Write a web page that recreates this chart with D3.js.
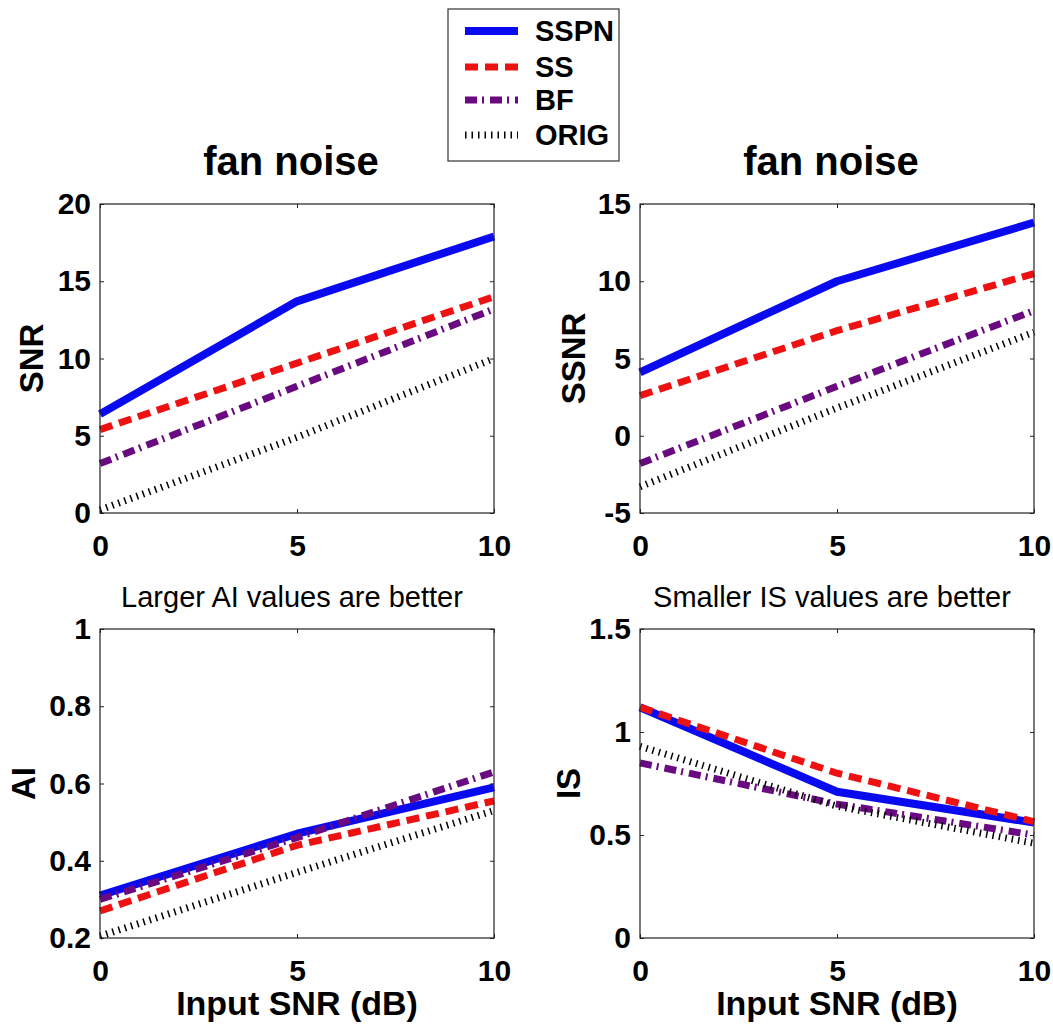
<!DOCTYPE html>
<html><head><meta charset="utf-8">
<script src="https://cdn.jsdelivr.net/npm/d3@7"></script>
<style>
body{margin:0;background:#fff}
svg{display:block}
text{font-family:"Liberation Sans",Arial,Helvetica,sans-serif;fill:#000}
</style>
</head><body>
<svg id="chart" width="1053" height="1025"></svg>
<script>
// ---------- data ----------
const inputSNR = [0, 5, 10];
const seriesNames = ["SSPN", "SS", "BF", "ORIG"];

const snrSSPN = [6.4, 13.7, 17.9];
const snrSS   = [5.4, 9.7, 14.0];
const snrBF   = [3.2, 8.2, 13.2];
const snrORIG = [0.2, 4.9, 10.0];

const ssnrSSPN = [4.1, 10.0, 13.8];
const ssnrSS   = [2.6, 6.8, 10.5];
const ssnrBF   = [-1.8, 3.2, 8.1];
const ssnrORIG = [-3.3, 1.8, 6.7];

const aiSSPN = [0.31, 0.47, 0.59];
const aiSS   = [0.27, 0.44, 0.555];
const aiBF   = [0.30, 0.46, 0.63];
const aiORIG = [0.205, 0.37, 0.53];

const isSSPN = [1.12, 0.71, 0.56];
const isSS   = [1.12, 0.80, 0.565];
const isBF   = [0.85, 0.65, 0.50];
const isORIG = [0.93, 0.64, 0.46];

const xTicks    = [0, 5, 10];
const snrTicks  = [0, 5, 10, 15, 20];
const ssnrTicks = [-5, 0, 5, 10, 15];
const aiTicks   = [0.2, 0.4, 0.6, 0.8, 1];
const isTicks   = [0, 0.5, 1, 1.5];

const panelTitles = ["fan noise", "fan noise", "Larger AI values are better", "Smaller IS values are better"];
const yLabels = ["SNR", "SSNR", "AI", "IS"];
const xLabel = "Input SNR (dB)";

// ---------- styles / layout ----------
const seriesStyles = [
  {color: "#0a0af0", width: 8, dash: null},
  {color: "#ee1111", width: 7, dash: "13,7"},
  {color: "#6a0a80", width: 7, dash: "12,5,2,6"},
  {color: "#000000", width: 7, dash: "1.5,5"}
];

const panels = [
  {left: 100, top: 204, domain: [0, 20], ticks: snrTicks, data: [snrSSPN, snrSS, snrBF, snrORIG], bold: true, ylabX: 31.5, showX: false},
  {left: 640, top: 204, domain: [-5, 15], ticks: ssnrTicks, data: [ssnrSSPN, ssnrSS, ssnrBF, ssnrORIG], bold: true, ylabX: 573, showX: false},
  {left: 100, top: 629, domain: [0.2, 1], ticks: aiTicks, data: [aiSSPN, aiSS, aiBF, aiORIG], bold: false, ylabX: 23, showX: true},
  {left: 640, top: 629, domain: [0, 1.5], ticks: isTicks, data: [isSSPN, isSS, isBF, isORIG], bold: false, ylabX: 568, showX: true}
];
const W = 394, H = 309;

const svg = d3.select("#chart");

panels.forEach((p, pi) => {
  const g = svg.append("g").attr("transform", `translate(${p.left},${p.top})`);
  const x = d3.scaleLinear().domain([0, 10]).range([0, W]);
  const y = d3.scaleLinear().domain(p.domain).range([H, 0]);

  // lines
  const line = d3.line().x((d, i) => x(inputSNR[i])).y(d => y(d));
  p.data.forEach((vals, si) => {
    const st = seriesStyles[si];
    g.append("path")
      .attr("d", line(vals))
      .attr("fill", "none")
      .attr("stroke", st.color)
      .attr("stroke-width", st.width)
      .attr("stroke-linecap", "butt")
      .attr("stroke-linejoin", "round")
      .attr("stroke-dasharray", st.dash);
  });

  // frame
  g.append("rect").attr("x", 0).attr("y", 0).attr("width", W).attr("height", H)
    .attr("fill", "none").attr("stroke", "#222").attr("stroke-width", 1.2);

  const fmt = d => String(d);
  const ya = g.append("g").call(d3.axisLeft(y).tickValues(p.ticks).tickFormat(fmt).tickSizeInner(-4).tickSizeOuter(0).tickPadding(9));
  const yr = g.append("g").attr("transform", `translate(${W},0)`).call(d3.axisRight(y).tickValues(p.ticks).tickFormat("").tickSizeInner(-4).tickSizeOuter(0));
  const xa = g.append("g").attr("transform", `translate(0,${H})`).call(d3.axisBottom(x).tickValues(xTicks).tickFormat(fmt).tickSizeInner(-4).tickSizeOuter(0).tickPadding(22));
  const xt = g.append("g").call(d3.axisTop(x).tickValues(xTicks).tickFormat("").tickSizeInner(-4).tickSizeOuter(0));

  [ya, yr, xa, xt].forEach(a => {
    a.select(".domain").remove();
    a.selectAll("line").attr("stroke", "#222");
    a.selectAll("text").attr("font-size", 30).attr("font-weight", "bold").attr("fill", "#000")
      .style("font-family", '"Liberation Sans",Arial,sans-serif');
  });

  // title
  if (p.bold) {
    svg.append("text").attr("x", p.left + W / 2 - 6).attr("y", 175)
      .attr("text-anchor", "middle").attr("font-size", 40).attr("font-weight", "bold")
      .text(panelTitles[pi]);
  } else {
    svg.append("text").attr("x", p.left + W / 2 - 5).attr("y", 607)
      .attr("text-anchor", "middle").attr("font-size", 29)
      .text(panelTitles[pi]);
  }

  // y label
  const fs = 33;
  svg.append("text")
    .attr("transform", `translate(${p.ylabX + 0.36 * fs},${p.top + H / 2}) rotate(-90)`)
    .attr("text-anchor", "middle").attr("font-size", fs).attr("font-weight", "bold")
    .text(yLabels[pi]);

  // x label
  if (p.showX) {
    svg.append("text").attr("x", p.left + W / 2).attr("y", 1015)
      .attr("text-anchor", "middle").attr("font-size", 34).attr("font-weight", "bold")
      .text(xLabel);
  }
});

// ---------- legend ----------
const lg = svg.append("g");
lg.append("rect").attr("x", 448).attr("y", 9).attr("width", 171).attr("height", 152)
  .attr("fill", "#fff").attr("stroke", "#333").attr("stroke-width", 1.2);
const legendRows = [31, 67, 100, 135];
seriesNames.forEach((name, i) => {
  const st = seriesStyles[i];
  lg.append("line").attr("x1", 465).attr("x2", 518).attr("y1", legendRows[i]).attr("y2", legendRows[i])
    .attr("stroke", st.color).attr("stroke-width", st.width).attr("stroke-dasharray", st.dash);
  lg.append("text").attr("x", 535).attr("y", legendRows[i] + 10)
    .attr("font-size", 29).attr("font-weight", "bold").text(name);
});
</script>
</body></html>
